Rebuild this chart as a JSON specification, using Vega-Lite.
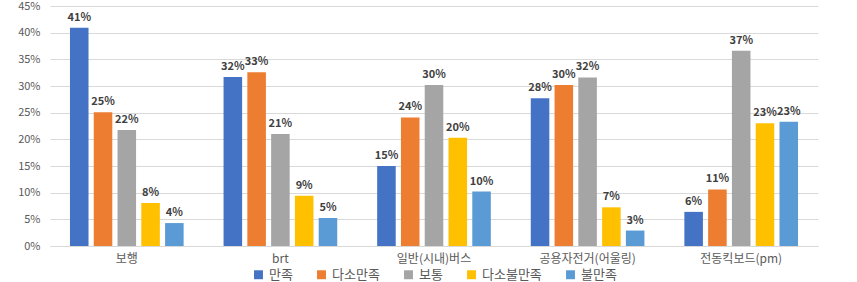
{
  "$schema": "https://vega.github.io/schema/vega-lite/v6.json",
  "width": 768,
  "height": 240,
  "autosize": "none",
  "padding": {"left": 50, "top": 6, "right": 39, "bottom": 36},
  "background": "white",
  "config": {
    "font": "Noto Sans CJK KR",
    "view": {"stroke": null},
    "legend": {"layout": {"bottom": {"anchor": "middle"}}}
  },
  "data": {
    "values": [
      {"mode": "보행", "level": "만족", "value": 0.409},
      {"mode": "보행", "level": "다소만족", "value": 0.251},
      {"mode": "보행", "level": "보통", "value": 0.2175},
      {"mode": "보행", "level": "다소불만족", "value": 0.0806},
      {"mode": "보행", "level": "불만족", "value": 0.043},
      {"mode": "brt", "level": "만족", "value": 0.317},
      {"mode": "brt", "level": "다소만족", "value": 0.326},
      {"mode": "brt", "level": "보통", "value": 0.21},
      {"mode": "brt", "level": "다소불만족", "value": 0.094},
      {"mode": "brt", "level": "불만족", "value": 0.0525},
      {"mode": "일반(시내)버스", "level": "만족", "value": 0.15},
      {"mode": "일반(시내)버스", "level": "다소만족", "value": 0.241},
      {"mode": "일반(시내)버스", "level": "보통", "value": 0.302},
      {"mode": "일반(시내)버스", "level": "다소불만족", "value": 0.203},
      {"mode": "일반(시내)버스", "level": "불만족", "value": 0.102},
      {"mode": "공용자전거(어울링)", "level": "만족", "value": 0.277},
      {"mode": "공용자전거(어울링)", "level": "다소만족", "value": 0.302},
      {"mode": "공용자전거(어울링)", "level": "보통", "value": 0.316},
      {"mode": "공용자전거(어울링)", "level": "다소불만족", "value": 0.0725},
      {"mode": "공용자전거(어울링)", "level": "불만족", "value": 0.029},
      {"mode": "전동킥보드(pm)", "level": "만족", "value": 0.064},
      {"mode": "전동킥보드(pm)", "level": "다소만족", "value": 0.106},
      {"mode": "전동킥보드(pm)", "level": "보통", "value": 0.366},
      {"mode": "전동킥보드(pm)", "level": "다소불만족", "value": 0.23},
      {"mode": "전동킥보드(pm)", "level": "불만족", "value": 0.233}
    ]
  },
  "encoding": {
    "x": {
      "field": "mode",
      "type": "nominal",
      "sort": ["보행", "brt", "일반(시내)버스", "공용자전거(어울링)", "전동킥보드(pm)"],
      "scale": {"paddingInner": 0.26, "paddingOuter": 0.13},
      "axis": {
        "title": null,
        "labelAngle": 0,
        "labelFontSize": 12,
        "labelColor": "#595959",
        "labelPadding": 7,
        "ticks": false,
        "domainColor": "#d9d9d9",
        "grid": false
      }
    },
    "xOffset": {
      "field": "level",
      "type": "nominal",
      "sort": ["만족", "다소만족", "보통", "다소불만족", "불만족"],
      "scale": {"paddingInner": 0.22}
    },
    "y": {
      "field": "value",
      "type": "quantitative",
      "scale": {"domain": [0, 0.45]},
      "axis": {
        "title": null,
        "format": ".0%",
        "values": [0, 0.05, 0.1, 0.15, 0.2, 0.25, 0.3, 0.35, 0.4, 0.45],
        "labelFontSize": 11,
        "labelColor": "#595959",
        "labelPadding": 10,
        "ticks": false,
        "domain": false,
        "gridColor": "#d9d9d9"
      }
    }
  },
  "layer": [
    {
      "mark": {"type": "bar"},
      "encoding": {
        "color": {
          "field": "level",
          "type": "nominal",
          "sort": ["만족", "다소만족", "보통", "다소불만족", "불만족"],
          "scale": {
            "domain": ["만족", "다소만족", "보통", "다소불만족", "불만족"],
            "range": ["#4472C4", "#ED7D31", "#A5A5A5", "#FFC000", "#5B9BD5"]
          },
          "legend": {
            "title": null,
            "orient": "bottom",
            "direction": "horizontal",
            "symbolType": "square",
            "symbolSize": 80,
            "labelFontSize": 13,
            "labelColor": "#595959",
            "columnPadding": 22,
            "offset": 4
          }
        }
      }
    },
    {
      "mark": {"type": "text", "baseline": "bottom", "dy": -5, "fontSize": 11, "fontWeight": "bold", "color": "#404040"},
      "encoding": {
        "text": {"field": "value", "type": "quantitative", "format": ".0%"}
      }
    }
  ]
}
